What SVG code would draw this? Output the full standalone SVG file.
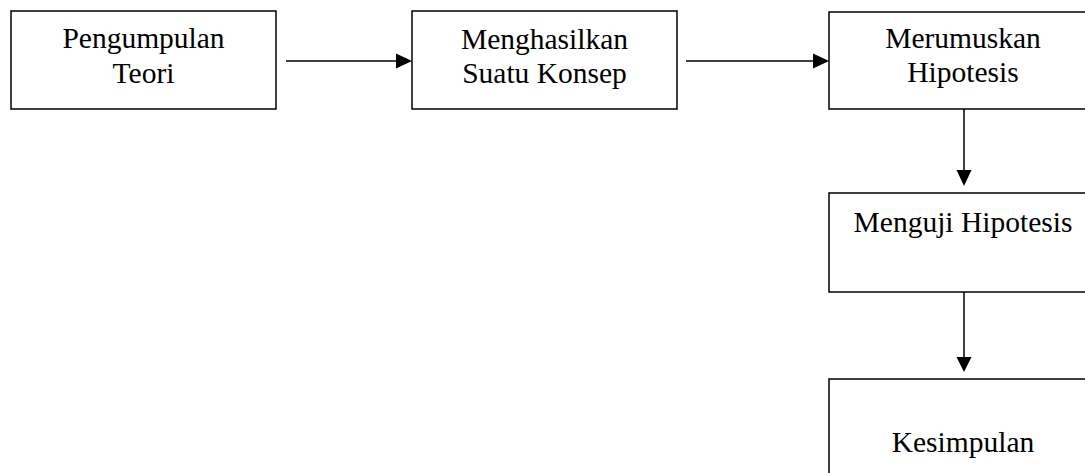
<svg xmlns="http://www.w3.org/2000/svg" width="1085" height="473" viewBox="0 0 1085 473">
<style>
.box{fill:#fff;stroke:#000;stroke-width:1.5}
.t{font-family:"Liberation Serif","Times New Roman",serif;font-size:29.5px;fill:#000;text-anchor:middle}
.c{stroke:#000;stroke-width:1.5;fill:none}
.h{fill:#000;stroke:none}
</style>
<rect width="1085" height="473" fill="#fff"/>
<g id="n1"><rect class="box" x="11" y="11" width="265" height="98"/>
<text class="t" x="143.5" y="48">Pengumpulan</text><text class="t" x="143.5" y="83">Teori</text></g>
<g id="n2"><rect class="box" x="412" y="11" width="265" height="98"/>
<text class="t" x="544.5" y="48.5">Menghasilkan</text><text class="t" x="544.5" y="83">Suatu Konsep</text></g>
<g id="n3"><rect class="box" x="829" y="12" width="268" height="97"/>
<text class="t" x="963" y="48">Merumuskan</text><text class="t" x="963" y="82">Hipotesis</text></g>
<g id="n4"><rect class="box" x="829" y="193" width="268" height="99"/>
<text class="t" x="963" y="232">Menguji Hipotesis</text></g>
<g id="n5"><rect class="box" x="829" y="379" width="268" height="110"/>
<text class="t" x="963" y="452">Kesimpulan</text></g>
<g id="connectors">
<line class="c" x1="286" y1="61" x2="397" y2="61"/><polygon class="h" points="412,61 396,53.5 396,68.5"/>
<line class="c" x1="686" y1="61" x2="814" y2="61"/><polygon class="h" points="829,61 813,53.5 813,68.5"/>
<line class="c" x1="964" y1="109" x2="964" y2="171"/><polygon class="h" points="964,186 956.5,170 971.5,170"/>
<line class="c" x1="964" y1="292" x2="964" y2="358"/><polygon class="h" points="964,372 956.5,357 971.5,357"/>
</g>
</svg>
